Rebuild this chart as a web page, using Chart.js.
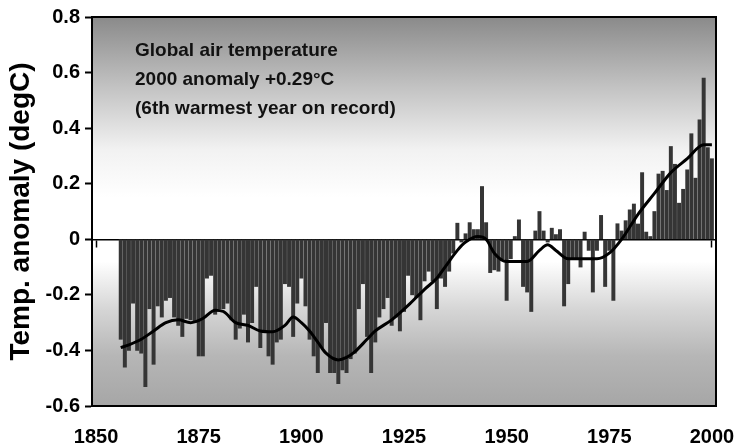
<!DOCTYPE html>
<html>
<head>
<meta charset="utf-8">
<script src="https://cdn.jsdelivr.net/npm/chart.js@4.4.1/dist/chart.umd.min.js"></script>
<style>
  body { margin: 0; background: #fff; }
  #wrap { width: 737px; height: 448px; position: relative; }
</style>
</head>
<body>
<div id="wrap"><canvas id="c"></canvas></div>
<script>
// annual global anomalies, 1856-2000 (degC)
const firstYear = 1856;
const anomalies = [
  -0.36, -0.46, -0.40, -0.23, -0.40, -0.41, -0.53, -0.25, -0.45, -0.24, // 1856-65
  -0.28, -0.22, -0.21, -0.28, -0.31, -0.35, -0.285, -0.29, -0.30, -0.42, // 1866-75
  -0.42, -0.14, -0.13, -0.27, -0.25, -0.25, -0.23, -0.29, -0.36, -0.32, // 1876-85
  -0.27, -0.37, -0.30, -0.17, -0.39, -0.33, -0.42, -0.45, -0.37, -0.36, // 1886-95
  -0.16, -0.17, -0.35, -0.23, -0.14, -0.24, -0.36, -0.42, -0.48, -0.39, // 1896-1905
  -0.30, -0.48, -0.48, -0.52, -0.47, -0.48, -0.43, -0.41, -0.25, -0.16, // 1906-15
  -0.35, -0.48, -0.37, -0.28, -0.25, -0.21, -0.31, -0.28, -0.33, -0.26, // 1916-25
  -0.13, -0.20, -0.21, -0.29, -0.15, -0.115, -0.15, -0.25, -0.14, -0.17, // 1926-35
  -0.115, -0.05, 0.058, -0.01, 0.02, 0.06, 0.035, 0.035, 0.19, 0.06,   // 1936-45
  -0.12, -0.11, -0.115, -0.07, -0.22, -0.07, 0.01, 0.07, -0.17, -0.19, // 1946-55
  -0.26, 0.03, 0.10, 0.03, -0.01, 0.04, 0.017, 0.035, -0.24, -0.16,    // 1956-65
  -0.07, -0.07, -0.10, 0.026, -0.04, -0.19, -0.04, 0.086, -0.17, -0.04, // 1966-75
  -0.22, 0.056, 0.03, 0.067, 0.106, 0.127, 0.055, 0.24, 0.026, 0.01,   // 1976-85
  0.10, 0.235, 0.245, 0.176, 0.334, 0.27, 0.13, 0.18, 0.25, 0.38,      // 1986-95
  0.22, 0.43, 0.58, 0.33, 0.29                                         // 1996-2000
];

// smoothed curve
const smoothYears = [1856, 1858, 1861, 1864, 1867, 1870, 1873, 1876, 1879, 1881, 1884, 1887, 1890,
  1893, 1896, 1898, 1900, 1902, 1904, 1906, 1909, 1911, 1913, 1916, 1918, 1922, 1926, 1930, 1933,
  1935, 1938, 1940, 1943, 1945, 1947, 1950, 1955, 1958, 1960, 1962, 1965, 1972, 1975, 1978, 1982,
  1986, 1990, 1994, 1998, 2000];
const smoothValues = [-0.39, -0.38, -0.36, -0.33, -0.30, -0.29, -0.30, -0.285, -0.255, -0.26, -0.30, -0.31, -0.33,
  -0.333, -0.31, -0.28, -0.30, -0.33, -0.37, -0.41, -0.434, -0.425, -0.405, -0.36, -0.33, -0.29, -0.238, -0.18, -0.14,
  -0.10, -0.04, -0.01, 0.01, 0.0, -0.05, -0.08, -0.08, -0.04, -0.02, -0.04, -0.07, -0.07, -0.05, 0.0, 0.09,
  0.165, 0.24, 0.29, 0.34, 0.34];

const xTicks = [1850, 1875, 1900, 1925, 1950, 1975, 2000];
const noteLines = ["Global air temperature", "2000 anomaly +0.29\u00B0C", "(6th warmest year on record)"];

const FONT = "'Liberation Sans', Arial, Helvetica, sans-serif";

const barData = anomalies.map((v, i) => ({ x: firstYear + i, y: v }));
const lineData = smoothYears.map((yr, i) => ({ x: yr, y: smoothValues[i] }));

const setTicks = (scale) => { scale.ticks = xTicks.map(v => ({ value: v })); };
// let the end labels hang over the edges instead of shrinking the plot
const noOverhang = (scale) => { scale.paddingLeft = 0; scale.paddingRight = 0; };

// grey-white-grey backdrop behind the bars
const backdrop = {
  id: "backdrop",
  beforeDraw(chart) {
    const { ctx, chartArea: a, scales: { y } } = chart;
    const g = ctx.createLinearGradient(0, a.top, 0, a.bottom);
    const stop = (v, c) => g.addColorStop((y.getPixelForValue(v) - a.top) / (a.bottom - a.top), c);
    stop(0.8, "#8a8a8a");
    stop(0.55, "#c2c2c2");
    stop(0.32, "#f2f2f2");
    stop(0.15, "#ffffff");
    stop(-0.08, "#ffffff");
    stop(-0.25, "#d6d6d6");
    stop(-0.42, "#b6b6b6");
    stop(-0.6, "#a6a6a6");
    ctx.save();
    ctx.fillStyle = g;
    ctx.fillRect(a.left, a.top, a.right - a.left, a.bottom - a.top);
    ctx.restore();
  },
  afterDraw(chart) {
    const { ctx, chartArea: a } = chart;
    ctx.save();
    ctx.strokeStyle = "#000";
    ctx.lineWidth = 2;
    ctx.strokeRect(a.left, a.top, a.right - a.left, a.bottom - a.top);
    // annotation
    ctx.fillStyle = "#111";
    ctx.font = "bold 19px " + FONT;
    ctx.textBaseline = "alphabetic";
    noteLines.forEach((t, i) => ctx.fillText(t, a.left + 43, a.top + 39 + i * 29));
    ctx.restore();
  }
};

new Chart(document.getElementById("c"), {
  type: "bar",
  data: {
    datasets: [
      {
        type: "line",
        data: lineData,
        borderColor: "#000",
        borderWidth: 3,
        pointRadius: 0,
        cubicInterpolationMode: "monotone",
        fill: false,
        order: 1
      },
      {
        data: barData,
        backgroundColor: "#353535",
        borderWidth: 0,
        barThickness: 3.3,
        order: 2
      }
    ]
  },
  options: {
    responsive: true,
    maintainAspectRatio: false,
    animation: false,
    layout: { padding: { left: 0, top: 15, right: 21, bottom: 0 } },
    plugins: { legend: { display: false }, tooltip: { enabled: false } },
    scales: {
      // zero line with small ticks hanging below it
      x: {
        type: "linear",
        position: { y: 0 },
        min: 1849,
        max: 2001,
        offset: false,
        z: 1,
        afterBuildTicks: setTicks,
        afterFit: noOverhang,
        ticks: { display: false },
        grid: { drawOnChartArea: false, drawTicks: true, tickLength: 7, tickColor: "#000", tickWidth: 1.5, offset: false },
        border: { display: true, color: "#000", width: 1.5 }
      },
      x2: {
        type: "linear",
        position: "bottom",
        min: 1849,
        max: 2001,
        offset: false,
        afterBuildTicks: setTicks,
        afterFit: (s) => { s.height = 42; noOverhang(s); },
        ticks: {
          color: "#000",
          font: { family: FONT, size: 20, weight: "bold" },
          padding: 19,
          maxRotation: 0,
          callback: (v) => String(v)
        },
        grid: { display: true, drawOnChartArea: false, drawTicks: false, offset: false },
        border: { display: true, color: "#000", width: 2 }
      },
      y: {
        min: -0.6,
        max: 0.8,
        afterFit: (s) => { s.width = 92; },
        ticks: {
          stepSize: 0.2,
          color: "#000",
          padding: 5,
          font: { family: FONT, size: 20, weight: "bold" },
          callback: (v) => Math.abs(v) < 1e-9 ? "0" : v.toFixed(1)
        },
        grid: { drawOnChartArea: false, drawTicks: true, tickLength: 7, tickColor: "#000", tickWidth: 2 },
        border: { display: true, color: "#000", width: 2 },
        title: {
          display: true,
          text: "Temp. anomaly (degC)",
          color: "#000",
          font: { family: FONT, size: 28, weight: "bold" },
          padding: { top: 4, bottom: 0 }
        }
      }
    }
  },
  plugins: [backdrop]
});
</script>
</body>
</html>
